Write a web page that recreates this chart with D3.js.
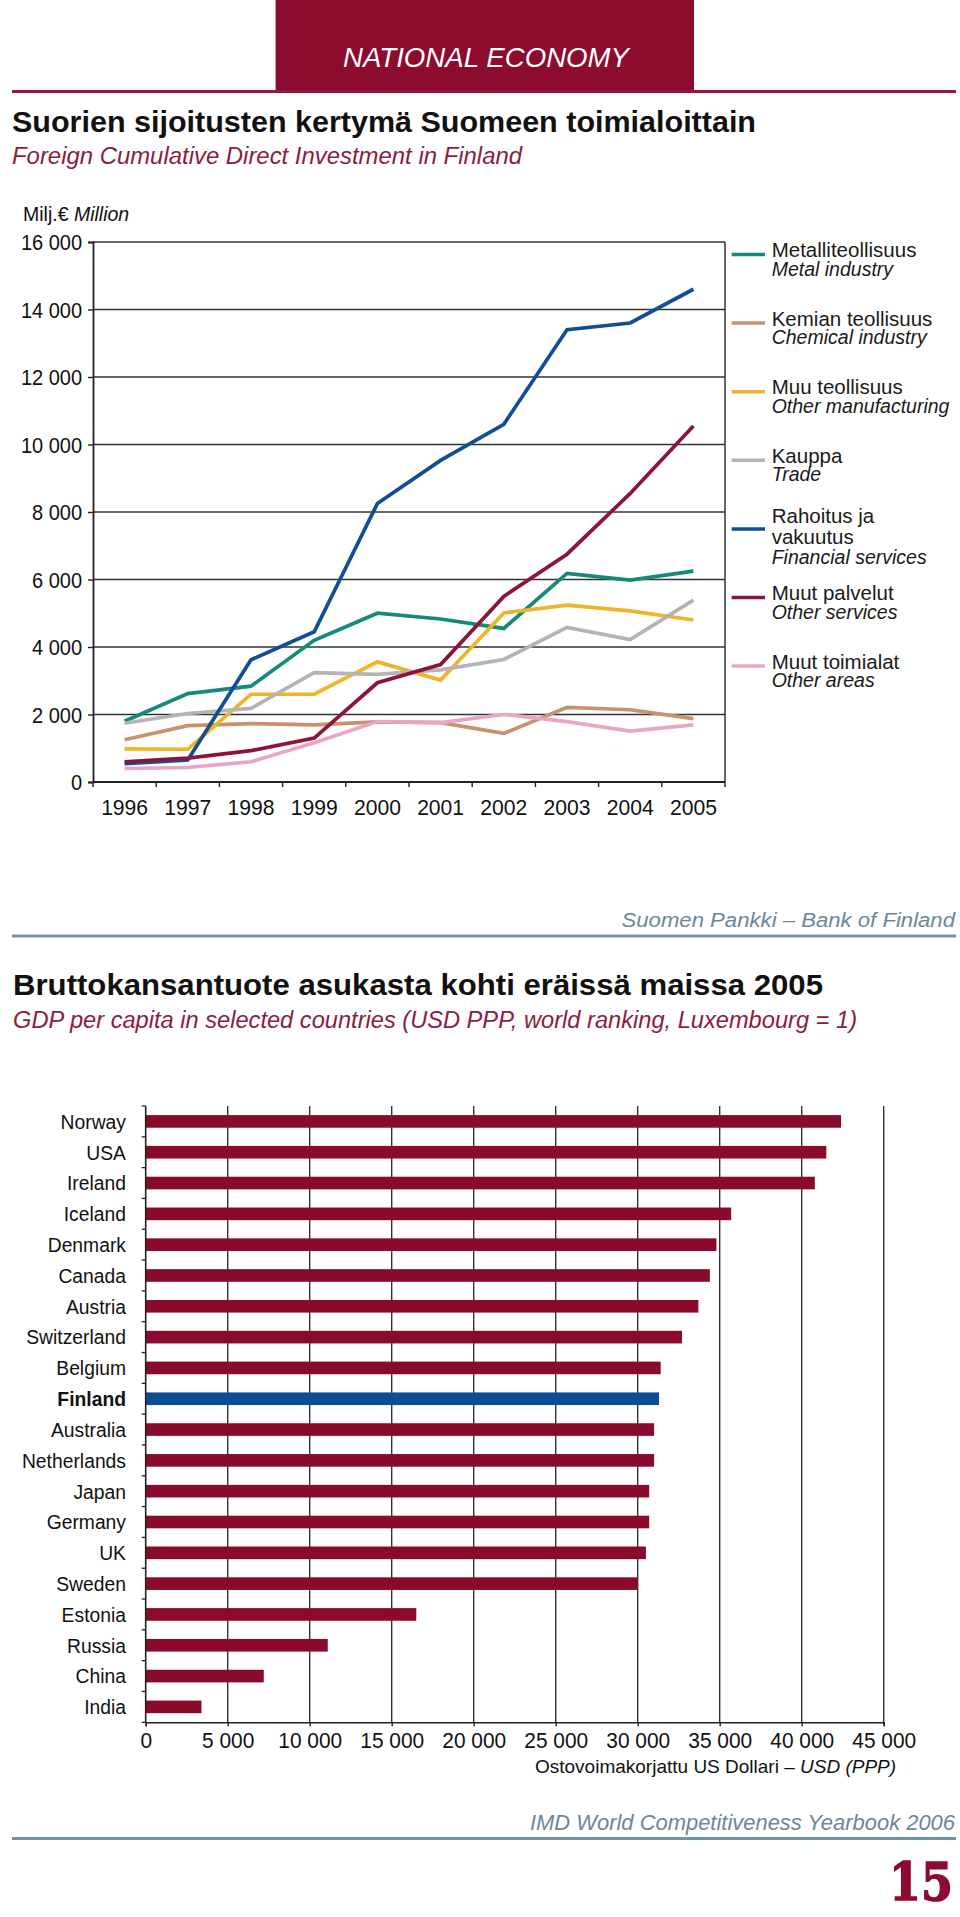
<!DOCTYPE html>
<html><head><meta charset="utf-8">
<script src="https://cdn.jsdelivr.net/npm/d3@7"></script>
<style>
body{margin:0;background:#fff;}
svg{display:block;font-family:"Liberation Sans",Arial,sans-serif;}
</style></head><body>
<svg id="c" width="960" height="1917"></svg>
<script>
// ---------- DATA: line chart ----------
const years = [1996,1997,1998,1999,2000,2001,2002,2003,2004,2005];
const metal         = [1800,2620,2840,4200,5000,4830,4550,6180,5980,6250];
const chemical      = [1250,1670,1730,1690,1780,1760,1440,2210,2140,1880];
const otherManuf    = [980,970,2600,2600,3560,3020,5010,5240,5070,4800];
const trade         = [1740,2030,2180,3240,3190,3320,3630,4580,4220,5390];
const financial     = [540,650,3620,4450,8250,9530,10600,13400,13600,14600];
const otherServices = [600,710,930,1300,2940,3480,5500,6750,8550,10550];
const otherAreas    = [400,430,600,1160,1790,1760,2000,1790,1510,1690];
const yTicksLine = [0,2000,4000,6000,8000,10000,12000,14000,16000];
const seriesFi = ["Metalliteollisuus","Kemian teollisuus","Muu teollisuus","Kauppa","Rahoitus ja|vakuutus","Muut palvelut","Muut toimialat"];
const seriesEn = ["Metal industry","Chemical industry","Other manufacturing","Trade","Financial services","Other services","Other areas"];
const seriesColors = ["#16897b","#c9916f","#f0b42a","#b4b4b4","#114f92","#8b1438","#eca4c6"];

// ---------- DATA: bar chart ----------
const countries = ["Norway","USA","Ireland","Iceland","Denmark","Canada","Austria","Switzerland","Belgium","Finland","Australia","Netherlands","Japan","Germany","UK","Sweden","Estonia","Russia","China","India"];
const gdp = [42400,41500,40800,35700,34800,34400,33700,32700,31400,31300,31000,31000,30700,30700,30500,30000,16500,11100,7200,3400];
const xTicksGdp = [0,5000,10000,15000,20000,25000,30000,35000,40000,45000];

const seriesValues = [metal,chemical,otherManuf,trade,financial,otherServices,otherAreas];

const svg = d3.select("#c");
svg.append("rect").attr("width",960).attr("height",1917).attr("fill","#fff");
const RED = "#8c0b2e", MAROON = "#8c1c40", GREYBLUE = "#6d8797";
const fmt = d => d3.format(",")(d).replace(/,/g," ");

function txt(x,y,s,o){
  o = o||{};
  const t = svg.append("text").attr("x",x).attr("y",y).text(s)
    .attr("font-size",o.size||20).attr("fill",o.fill||"#111");
  if(o.weight) t.attr("font-weight",o.weight);
  if(o.italic) t.attr("font-style","italic");
  if(o.anchor) t.attr("text-anchor",o.anchor);
  if(o.len) t.attr("textLength",o.len).attr("lengthAdjust","spacingAndGlyphs");
  if(o.family) t.attr("font-family",o.family);
  if(o.stroke) t.attr("stroke",o.stroke).attr("stroke-width",o.sw||1);
  return t;
}

// ---------- header ----------
svg.append("rect").attr("x",275.6).attr("y",0).attr("width",418.4).attr("height",90).attr("fill",RED);
svg.append("line").attr("x1",12).attr("x2",956).attr("y1",91.5).attr("y2",91.5).attr("stroke","#951838").attr("stroke-width",3);
txt(343,67,"NATIONAL ECONOMY",{size:28.5,fill:"#fff",italic:true,len:286});

txt(12,132,"Suorien sijoitusten kertymä Suomeen toimialoittain",{size:30,weight:"bold",len:744});
txt(12,163.5,"Foreign Cumulative Direct Investment in Finland",{size:23,italic:true,fill:MAROON,len:510});

const mil = txt(23,221,"Milj.€ ",{size:19.5});
mil.append("tspan").attr("font-style","italic").text("Million");

// ---------- line chart ----------
const L = {left:93,right:725,top:242,bottom:782};
const x = d3.scaleBand().domain(years).range([L.left,L.right]).padding(0);
const y = d3.scaleLinear().domain([0,16000]).range([L.bottom,L.top]);
const gL = svg.append("g");

gL.selectAll("line.grid").data(yTicksLine).join("line")
  .attr("x1",L.left).attr("x2",L.right).attr("y1",d=>y(d)).attr("y2",d=>y(d))
  .attr("stroke","#333").attr("stroke-width",1.6);
gL.append("line").attr("x1",L.right).attr("x2",L.right).attr("y1",L.top).attr("y2",L.bottom).attr("stroke","#333").attr("stroke-width",1.5);

const yAx = gL.append("g").attr("transform",`translate(${L.left},0)`)
  .call(d3.axisLeft(y).tickValues(yTicksLine).tickSize(5).tickPadding(6).tickFormat(fmt));
yAx.select(".domain").attr("stroke","#222").attr("stroke-width",1.8);
yAx.selectAll(".tick line").attr("stroke","#222").attr("stroke-width",1.4);
yAx.selectAll(".tick text").attr("font-size",22).attr("fill","#111")
  .attr("font-family","Liberation Sans, Arial, sans-serif").attr("dy","0.36em")
  .attr("x",-12).attr("transform","scale(0.91,1)");

// x axis
gL.append("line").attr("x1",L.left).attr("x2",L.right).attr("y1",L.bottom).attr("y2",L.bottom).attr("stroke","#222").attr("stroke-width",1.8);
const bounds = years.map(d=>x(d)).concat([L.right]);
gL.selectAll("line.xt").data(bounds).join("line")
  .attr("x1",d=>d).attr("x2",d=>d).attr("y1",L.bottom).attr("y2",L.bottom+5)
  .attr("stroke","#222").attr("stroke-width",1.4);
gL.selectAll("text.yr").data(years).join("text")
  .attr("transform",d=>`translate(${x(d)+x.bandwidth()/2},815) scale(0.96,1)`)
  .attr("text-anchor","middle")
  .attr("font-size",22).attr("fill","#111").text(d=>d);

// lines
const line = d3.line().x((d,i)=>x(years[i])+x.bandwidth()/2).y(d=>y(d));
seriesValues.forEach((vals,i)=>{
  gL.append("path").datum(vals).attr("d",line).attr("fill","none")
    .attr("stroke",seriesColors[i]).attr("stroke-width",3.7)
    .attr("stroke-linejoin","miter").attr("stroke-linecap","butt");
});

// legend
const gLeg = svg.append("g");
seriesFi.forEach((name,i)=>{
  const sy = 254.5 + i*68.6;
  gLeg.append("line").attr("x1",731.7).attr("x2",765).attr("y1",sy).attr("y2",sy)
    .attr("stroke",seriesColors[i]).attr("stroke-width",3.5);
  const parts = name.split("|");
  if(parts.length===1){
    txt(771.7,sy+2.5,parts[0],{size:20.5,fill:"#1a1a1a"});
    txt(771.7,sy+21,seriesEn[i],{size:19.5,italic:true,fill:"#1a1a1a"});
  } else {
    txt(771.7,sy-6,parts[0],{size:20.5,fill:"#1a1a1a"});
    txt(771.7,sy+15.5,parts[1],{size:20.5,fill:"#1a1a1a"});
    txt(771.7,sy+35,seriesEn[i],{size:19.5,italic:true,fill:"#1a1a1a"});
  }
});

// source 1
txt(621.5,927,"Suomen Pankki – Bank of Finland",{size:20,italic:true,fill:GREYBLUE,len:333.5});
svg.append("line").attr("x1",12).attr("x2",956).attr("y1",936).attr("y2",936).attr("stroke","#7492a6").attr("stroke-width",3);

// ---------- bar chart ----------
txt(13,995,"Bruttokansantuote asukasta kohti eräissä maissa 2005",{size:30,weight:"bold",len:810});
txt(13,1028,"GDP per capita in selected countries (USD PPP, world ranking, Luxembourg = 1)",{size:23,italic:true,fill:MAROON,len:844});

const B = {left:145.7,right:883.7,top:1106,bottom:1722.3};
const xb = d3.scaleLinear().domain([0,45000]).range([B.left,B.right]);
const yb = d3.scaleBand().domain(countries).range([B.top,B.bottom]).padding(0);
const barH = yb.bandwidth()*0.41;
const gB = svg.append("g");

gB.selectAll("line.vg").data(xTicksGdp.slice(1)).join("line")
  .attr("x1",d=>xb(d)).attr("x2",d=>xb(d)).attr("y1",B.top).attr("y2",B.bottom)
  .attr("stroke","#333").attr("stroke-width",1.4);

gB.selectAll("rect.bar").data(countries).join("rect")
  .attr("x",xb(0)).attr("y",d=>yb(d)+(yb.bandwidth()-barH)/2)
  .attr("width",(d,i)=>xb(gdp[i])-xb(0)).attr("height",barH)
  .attr("fill",d=>d==="Finland"?"#0d4d96":"#8a0a2c");

// left axis
gB.append("line").attr("x1",B.left).attr("x2",B.left).attr("y1",B.top).attr("y2",B.bottom).attr("stroke","#222").attr("stroke-width",1.6);
const yBounds = countries.map(c=>yb(c)).concat([B.bottom]);
gB.selectAll("line.yt").data(yBounds).join("line")
  .attr("x1",B.left-4).attr("x2",B.left).attr("y1",d=>d).attr("y2",d=>d)
  .attr("stroke","#222").attr("stroke-width",1.3);
gB.selectAll("text.cl").data(countries).join("text")
  .attr("transform",d=>`translate(126,${yb(d)+yb.bandwidth()/2}) scale(0.92,1)`)
  .attr("dy","0.35em")
  .attr("text-anchor","end").attr("font-size",21).attr("fill","#111")
  .attr("font-weight",d=>d==="Finland"?"bold":null).text(d=>d);

// bottom axis
const xAx = gB.append("g").attr("transform",`translate(0,${B.bottom})`)
  .call(d3.axisBottom(xb).tickValues(xTicksGdp).tickSize(4).tickPadding(4).tickFormat(fmt));
xAx.select(".domain").attr("stroke","#222").attr("stroke-width",1.6);
xAx.selectAll(".tick line").attr("stroke","#222").attr("stroke-width",1.4);
xAx.selectAll(".tick text").attr("font-size",22).attr("fill","#111")
  .attr("font-family","Liberation Sans, Arial, sans-serif").attr("y",26).attr("dy","0")
  .attr("transform","scale(0.95,1)");

const at = txt(535,1773,"Ostovoimakorjattu US Dollari – ",{size:19});
at.append("tspan").attr("font-style","italic").text("USD (PPP)");

txt(530,1830,"IMD World Competitiveness Yearbook 2006",{size:22,italic:true,fill:GREYBLUE,len:425});
svg.append("line").attr("x1",12).attr("x2",956).attr("y1",1838.5).attr("y2",1838.5).attr("stroke","#7492a6").attr("stroke-width",3);
txt(889,1900,"15",{size:52,weight:"bold",fill:RED,len:64,family:"DejaVu Serif, serif",stroke:RED,sw:1.5});
</script>
</body></html>
